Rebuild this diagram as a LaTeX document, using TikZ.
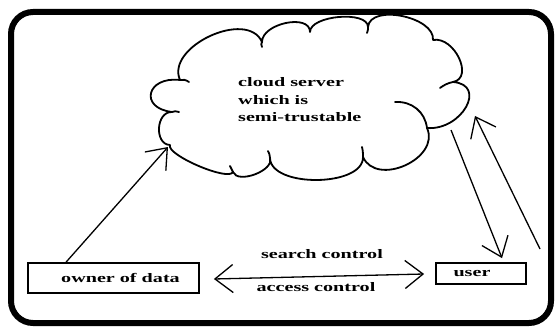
\documentclass[tikz,border=0pt]{standalone}
\usepackage{fontspec}
\setmainfont{Liberation Serif}[FakeStretch=1.55]
\usetikzlibrary{arrows.meta,calc}
\begin{document}
\begin{tikzpicture}[x=1pt,y=-1pt,
  lbl/.style={font=\fontsize{13}{17.5}\selectfont\bfseries},
  box/.style={draw,line width=1.8pt,lbl,inner sep=0pt},
  cloudline/.style={line width=1.8pt,line join=round,line cap=round},
  conn/.style={line width=1.3pt,-{Straight Barb[length=18pt,width=28pt]}},
  dconn/.style={line width=1.3pt,{Straight Barb[length=18pt,width=28pt]}-{Straight Barb[length=18pt,width=28pt]}}
  ]
\useasboundingbox (0,0) rectangle (556,328);
\draw[line width=6pt,rounded corners=22pt] (11,12) rectangle (551,323);
% cloud outline
\coordinate (J1) at (180,80);
\coordinate (J2) at (262,42);
\coordinate (J3) at (310,32);
\coordinate (J4) at (368,27);
\coordinate (J5) at (433,40);
\coordinate (J6) at (453,82);
\coordinate (J7) at (427,128);
\coordinate (J8) at (363,157);
\coordinate (J9) at (270,158);
\coordinate (J10) at (233,172);
\coordinate (J11) at (170,145);
\coordinate (J12) at (172,112);
\draw[cloudline] (J1)
  .. controls (165.3,46.7) and (247.3,8.7) .. (J2)
  .. controls (262,23.3) and (310,13.3) .. (J3)
  .. controls (310,15.3) and (368,10.3) .. (J4)
  .. controls (370,3.7) and (435,16.7) .. (J5)
  .. controls (454.3,36) and (474.3,78) .. (J6)
  .. controls (487.7,84.7) and (461.7,130.7) .. (J7)
  .. controls (440.7,158.4) and (376.7,187.4) .. (J8)
  .. controls (363.7,187) and (270.7,188) .. (J9)
  .. controls (274.7,170.4) and (237.7,184.4) .. (J10)
  .. controls (228.8,181.8) and (165.8,154.8) .. (J11)
  .. controls (154,144.3) and (156,111.3) .. (J12)
  .. controls (138.7,108) and (146.7,76) .. (J1) -- cycle;
% inner curls of the cloud
\draw[cloudline] (J1) .. controls (183,79) and (186,80) .. (189,82);
\draw[cloudline] (J2) .. controls (261,43) and (261,45) .. (262,47);
\draw[cloudline] (J4) .. controls (368,29) and (368,31) .. (367,33);
\draw[cloudline] (J6) .. controls (448,83) and (444,85) .. (440,88);
\draw[cloudline] (395,102) .. controls (412,101) and (425,112) .. (J7);
\draw[cloudline] (J8) .. controls (363,154) and (363,151) .. (362,147);
\draw[cloudline] (J9) .. controls (270,155) and (269,153) .. (268,151);
\draw[cloudline] (J10) .. controls (232,170) and (231,168) .. (230,166);
\draw[cloudline] (J12) .. controls (174,111) and (176,111) .. (179,112);
\node[lbl,align=left,anchor=west,inner sep=0pt] (cloudtext) at (238,100)
  {cloud server\\which is\\semi-trustable};
\node[box,minimum width=171pt,minimum height=30pt] (owner) at (113.5,278) {\hspace*{14pt}owner of data};
\node[box,minimum width=90pt,minimum height=21pt] (user) at (481,273.5) {user\hspace*{18pt}};
\node[lbl] (search) at (322,254) {search control};
\node[lbl] (access) at (316,287) {access control};
\coordinate (o1) at ($(owner.north west)+(39,0)$);
\coordinate (c1) at (168,147);
\coordinate (c2) at (451,130);
\coordinate (u1) at ($(user.north)+(21,-4)$);
\coordinate (u2) at (540,249);
\coordinate (c3) at (475,116);
\coordinate (h1) at ($(owner.east)+(14,1)$);
\coordinate (h2) at ($(user.west)+(-11,0.5)$);
\draw[conn] (o1) -- (c1);
\draw[conn] (c2) -- (u1);
\draw[conn] (u2) -- (c3);
\draw[dconn] (h1) -- (h2);
\end{tikzpicture}
\end{document}
